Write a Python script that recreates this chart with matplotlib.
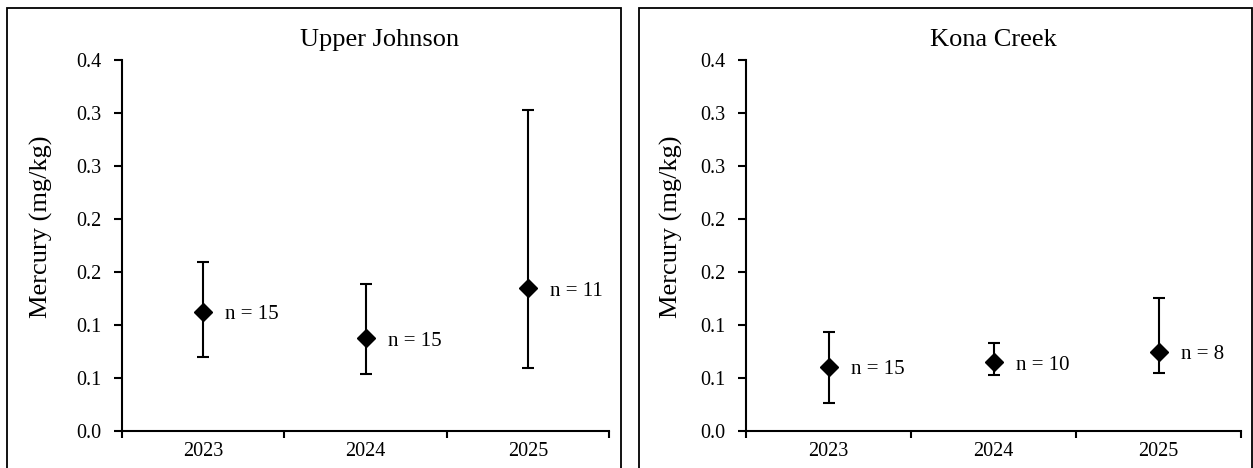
import matplotlib
matplotlib.use("Agg")
import matplotlib.pyplot as plt
from matplotlib.patches import Rectangle

plt.rcParams['font.family'] = ['Liberation Serif', 'DejaVu Serif']

years = ['2023', '2024', '2025']
yticks = [0.0, 0.05, 0.10, 0.15, 0.20, 0.25, 0.30, 0.35]
ytick_labels = ['0.0', '0.1', '0.1', '0.2', '0.2', '0.3', '0.3', '0.4']

# Upper Johnson
uj_mean = [0.1125, 0.0874, 0.1346]
uj_low = [0.0695, 0.0535, 0.0591]
uj_high = [0.159, 0.1387, 0.3028]
uj_n = [15, 15, 11]

# Kona Creek
kc_mean = [0.0607, 0.0648, 0.0748]
kc_low = [0.0261, 0.0528, 0.0544]
kc_high = [0.0931, 0.0833, 0.1252]
kc_n = [15, 10, 8]

W, H = 1253, 468
fig = plt.figure(figsize=(W / 100, H / 100), dpi=100)

# panel: (title, mean, low, high, n, axes x px, title x in axes, ylabel x, border px)
panels = [
    ("Upper Johnson", uj_mean, uj_low, uj_high, uj_n,
     (122, 609), 0.528, -0.142, (7, 621)),
    ("Kona Creek", kc_mean, kc_low, kc_high, kc_n,
     (746, 1241), 0.5, -0.127, (639, 1252)),
]

top_px, bot_px = 60, 431

for title, mean, low, high, ns, (x0, x1), tx, ylx, (b0, b1) in panels:
    ax = fig.add_axes([x0 / W, 1 - bot_px / H, (x1 - x0) / W, (bot_px - top_px) / H])
    xs = list(range(len(years)))
    err = [[m - l for m, l in zip(mean, low)], [h - m for m, h in zip(mean, high)]]
    ax.errorbar(xs, mean, yerr=err, fmt='D', color='black', ms=9,
                ecolor='black', elinewidth=1.5, capsize=4, capthick=1.5)
    for x, m, n in zip(xs, mean, ns):
        ax.annotate(f"n = {n}", (x, m), xytext=(16, -2), textcoords='offset points',
                    ha='left', va='center', fontsize=15)

    ax.set_xlim(-0.5, len(years) - 0.5)
    ax.set_ylim(0, 0.35)
    ax.set_xticks(xs)
    ax.set_xticklabels(years)
    ax.set_xticks([i - 0.5 for i in range(len(years) + 1)], minor=True)
    ax.tick_params(axis='x', which='major', length=0, pad=8, labelsize=14.5)
    ax.tick_params(axis='x', which='minor', length=5, width=1.5, direction='out')
    ax.set_yticks(yticks)
    ax.set_yticklabels(ytick_labels)
    ax.tick_params(axis='y', length=6, width=1.5, direction='out', pad=9, labelsize=14.5)

    for s in ['top', 'right']:
        ax.spines[s].set_visible(False)
    for s in ['left', 'bottom']:
        ax.spines[s].set_linewidth(1.5)

    ax.set_ylabel("Mercury (mg/kg)", fontsize=19)
    ax.yaxis.set_label_coords(ylx, 0.55)
    ax.text(tx, 1.054, title, transform=ax.transAxes, ha='center', va='center', fontsize=19)

    # chart-area border, cut off at the bottom of the picture
    fig.patches.append(Rectangle((b0 / W, -5 / H), (b1 - b0) / W, (H - 8 + 5) / H,
                                 transform=fig.transFigure, fill=False,
                                 edgecolor='black', linewidth=1.3))

fig.savefig("out.png", dpi=100)
